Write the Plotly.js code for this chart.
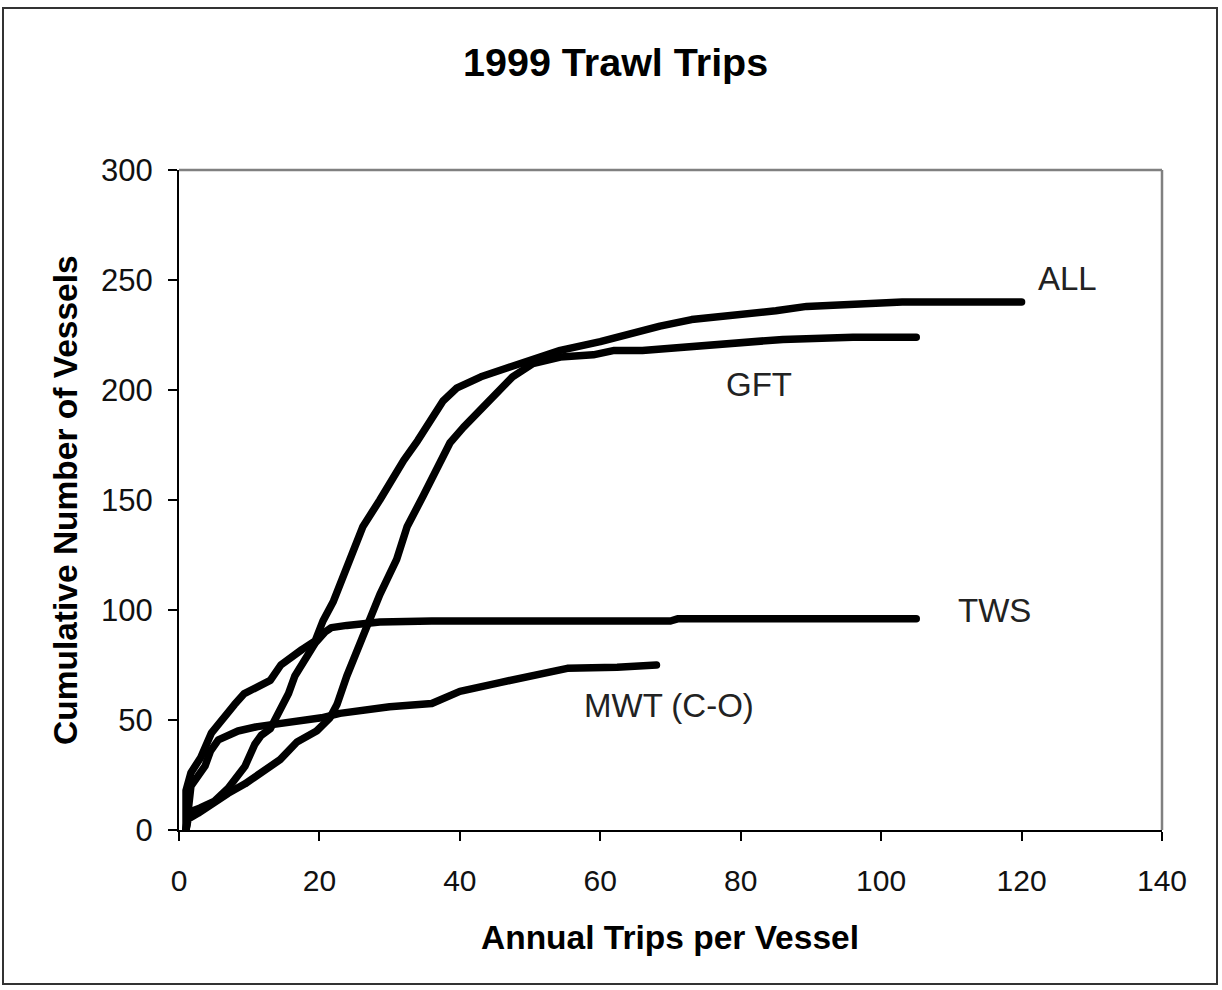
<!DOCTYPE html>
<html>
<head>
<meta charset="utf-8">
<script src="https://cdn.plot.ly/plotly-3.0.1.min.js"></script>
<style>
  html, body { margin: 0; padding: 0; background: #fff; }
  #wrap { position: relative; width: 1222px; height: 990px; }
  #chart { width: 1222px; height: 990px; }
  #frame { position: absolute; left: 2px; top: 7px; width: 1216px; height: 978px;
           border: 2px solid #333; pointer-events: none; box-sizing: border-box; }
  .scatterlayer path.js-line { stroke-linecap: round; stroke-linejoin: round; }
</style>
</head>
<body>
<div id="wrap">
  <div id="chart"></div>
  <div id="frame"></div>
</div>
<script>
// ---- Data ----
const allX = [1, 1, 1.7, 3.1, 4.6, 6, 7.9, 9.3, 11, 13, 14.5, 16, 17.5, 19.4, 20.5, 22, 23, 24, 25, 26.2, 28.6, 30, 32, 34, 35.7, 37.6, 39.6, 43, 46.7, 50.4, 54.3, 60, 64.7, 68.5, 73, 80, 85, 89.4, 95.6, 103, 112.7, 120];
const allY = [0, 18, 26, 33, 44, 50, 57, 62, 65, 68, 75, 78, 82, 86, 95, 104, 112, 121, 130, 138, 150, 158, 168, 177, 186, 195, 201, 206, 210, 214, 218, 222, 226, 229, 232, 234, 236, 238, 239, 240, 240, 240];

const gftX = [1, 1.3, 2.7, 4.6, 7, 9.4, 11.7, 14.4, 16.8, 19.6, 21.5, 22.5, 23.9, 25.4, 26.8, 27.5, 28.6, 31, 32.5, 34.8, 36.7, 38.6, 40.5, 42.9, 45.3, 47.5, 50.4, 54.3, 59, 62, 66, 73, 81, 86, 96, 105];
const gftY = [0, 5, 7.6, 12, 16.7, 21, 26, 32, 40, 45, 51, 57, 70, 82, 93, 100, 107, 123, 138, 152, 165, 176, 183, 191, 199, 206, 212, 215, 216, 218, 218, 220, 222, 223, 224, 224];

const twsX = [1, 1.3, 3, 5, 7, 9.4, 10.8, 11.7, 13, 14.6, 15.6, 16.5, 17.9, 19.4, 20.8, 21.7, 23.9, 28.6, 36, 70, 71, 105];
const twsY = [0, 8, 10, 13, 19, 29, 39, 43, 46, 55, 62, 70, 78, 85, 90, 92, 93, 94.5, 95, 95, 96, 96];

const mwtX = [1, 1.7, 3.7, 4.5, 5.6, 8.4, 11.2, 15, 18, 20.3, 22.9, 26, 30, 36, 40, 45.7, 51.4, 55.3, 62.4, 68];
const mwtY = [0, 20, 29, 36, 41, 45, 47, 48.5, 50, 51, 53, 54.5, 56, 57.5, 63, 67, 71, 73.5, 74, 75];

const seriesNames = ["ALL", "GFT", "TWS", "MWT (C-O)"];
const labelX = [126.6, 82.6, 116.1, 69.8];
const labelY = [250.5, 202.3, 100, 56.4];

const xTicks = [0, 20, 40, 60, 80, 100, 120, 140];
const yTicks = [0, 50, 100, 150, 200, 250, 300];

const titleText = "1999 Trawl Trips";
const xTitle = "Annual Trips per Vessel";
const yTitle = "Cumulative Number of Vessels";

// ---- Traces ----
const lineStyle = { color: "#000", width: 7.5 };
const xs = [allX, gftX, twsX, mwtX];
const ys = [allY, gftY, twsY, mwtY];
const traces = xs.map((x, i) => ({
  x: x, y: ys[i], type: "scatter", mode: "lines", name: seriesNames[i],
  line: lineStyle, hoverinfo: "skip"
}));

const FONT = "Liberation Sans, Arial, sans-serif";

const annotations = seriesNames.map((n, i) => ({
  x: labelX[i], y: labelY[i], xref: "x", yref: "y", text: n, showarrow: false,
  font: { family: FONT, size: 33, color: "#222" }, xanchor: "center", yanchor: "middle"
}));

annotations.push({
  text: "<b>" + yTitle + "</b>", xref: "paper", yref: "paper",
  x: (65 - 179) / 983, y: (830 - 500) / 660, showarrow: false, textangle: -90,
  font: { family: FONT, size: 33.5, color: "#000" }, xanchor: "center", yanchor: "middle"
});
annotations.push({
  text: "<b>" + xTitle + "</b>", xref: "paper", yref: "paper",
  x: (670 - 179) / 983, y: (830 - 937) / 660, showarrow: false,
  font: { family: FONT, size: 33.5, color: "#000" }, xanchor: "center", yanchor: "middle"
});
annotations.push({
  text: "<b>" + titleText + "</b>", xref: "paper", yref: "paper",
  x: (615 - 179) / 983, y: (830 - 62) / 660, showarrow: false,
  font: { family: FONT, size: 39.5, color: "#000" }, xanchor: "center", yanchor: "middle"
});

const layout = {
  width: 1222, height: 990,
  margin: { l: 179, r: 60, t: 170, b: 160, pad: 0 },
  paper_bgcolor: "#fff", plot_bgcolor: "#fff",
  showlegend: false,
  xaxis: {
    range: [0, 140], tickvals: xTicks, ticktext: xTicks.map(String),
    showgrid: false, zeroline: false, showline: true, linecolor: "#000", linewidth: 2,
    ticks: "outside", ticklen: 9, tickwidth: 2, tickcolor: "#000", ticklabelstandoff: 14,
    tickfont: { family: FONT, size: 30, color: "#111" }, fixedrange: true
  },
  yaxis: {
    range: [0, 300], tickvals: yTicks, ticktext: yTicks.map(String),
    showgrid: false, zeroline: false, showline: true, linecolor: "#000", linewidth: 2,
    ticks: "outside", ticklen: 9, tickwidth: 2, tickcolor: "#000", ticklabelstandoff: 9,
    tickfont: { family: FONT, size: 31, color: "#111" }, fixedrange: true
  },
  shapes: [
    { type: "line", xref: "paper", yref: "paper", x0: 0, x1: 1, y0: 1, y1: 1,
      line: { color: "#808080", width: 2.5 }, layer: "below" },
    { type: "line", xref: "paper", yref: "paper", x0: 1, x1: 1, y0: 0, y1: 1,
      line: { color: "#808080", width: 2.5 }, layer: "below" }
  ],
  annotations: annotations
};

Plotly.newPlot("chart", traces, layout, { staticPlot: true, displayModeBar: false });
</script>
</body>
</html>
